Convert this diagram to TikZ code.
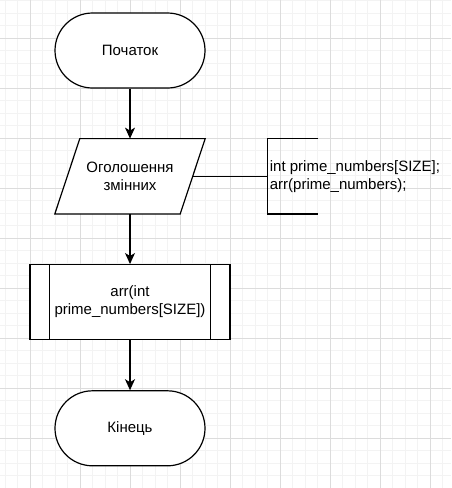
\documentclass[tikz,border=0pt]{standalone}
\usepackage{fontspec}
\setmainfont{Liberation Sans}
\usepackage{xcolor}
\usepackage{tikz}
\usetikzlibrary{arrows.meta,positioning}

\definecolor{gridminor}{HTML}{F3F3F3}
\definecolor{gridmajor}{HTML}{DCDCDC}

\begin{document}
\begin{tikzpicture}[
      x=1pt, y=-1pt,
      termbox/.style={
         rectangle,
         rounded corners=37.5pt,
         draw=black,
         fill=white,
         line width=1.2pt,
         minimum width=150pt,
         minimum height=75pt,
         font=\fontsize{15}{18}\selectfont},
      iobox/.style={
         rectangle,
         minimum width=150pt,
         minimum height=75pt,
         inner sep=0pt,
         align=center,
         font=\fontsize{15}{18}\selectfont},
      procbox/.style={
         rectangle,
         draw=black,
         fill=white,
         line width=1.2pt,
         minimum width=200pt,
         minimum height=75pt,
         align=center,
         font=\fontsize{15}{18}\selectfont},
      notebox/.style={
         minimum width=50pt,
         minimum height=75pt,
         inner sep=0pt},
      notetext/.style={
         anchor=west,
         align=left,
         inner sep=2pt,
         font=\fontsize{15}{18}\selectfont},
      myline/.style={line width=1.2pt},
      myarrow/.style={-{Stealth[length=11pt,width=10pt,inset=3pt]},line width=1.2pt},
      minorgrid/.style={draw=gridminor,line width=1pt},
      majorgrid/.style={draw=gridmajor,line width=1pt},
      node distance=50pt and 75pt
      ]
      % page and grid
      \fill[white] (0,0) rectangle (451,488);
      \useasboundingbox (0,0) rectangle (451,488);
      \foreach \gx in {5,17.5,...,451}
         \draw[minorgrid] (\gx,0) -- (\gx,488);
      \foreach \gy in {0.8,13.3,...,488}
         \draw[minorgrid] (0,\gy) -- (451,\gy);
      \foreach \gx in {30,80,...,451}
         \draw[majorgrid] (\gx,0) -- (\gx,488);
      \foreach \gy in {38.3,88.3,...,488}
         \draw[majorgrid] (0,\gy) -- (451,\gy);

      \node[termbox] (start) at (130,50.5) {Початок};
      \node[iobox,below=of start] (decl) {};
      % parallelogram drawn on the box corners
      \draw[myline,fill=white] ([xshift=25pt]decl.north west) -- (decl.north east)
         -- ([xshift=-25pt]decl.south east) -- (decl.south west) -- cycle;
      \node[iobox] (decltxt) at (decl.center) {Оголошення\\змінних};
      \coordinate (declright) at ([xshift=-12.5pt]decl.east);
      \node[notebox,right=75pt of declright] (note) {};
      \node[notetext] (notetxt) at (note.west) {int prime\_numbers[SIZE];\\arr(prime\_numbers);};
      \node[procbox,below=of decl] (proc) {arr(int\\prime\_numbers[SIZE])};
      \node[termbox,below=of proc] (stop) {Кінець};

      % side bars of the process box
      \draw[myline] ([xshift=20pt]proc.north west) -- ([xshift=20pt]proc.south west);
      \draw[myline] ([xshift=-20pt]proc.north east) -- ([xshift=-20pt]proc.south east);

      % comment bracket
      \draw[myline] (note.north east) -- (note.north west) -- (note.south west) -- (note.south east);
      \draw[myline] (declright) -- (note.west);

      \foreach \i/\j in {start/decl, decl/proc, proc/stop}
         \draw[myarrow] (\i) -- (\j);
\end{tikzpicture}
\end{document}
